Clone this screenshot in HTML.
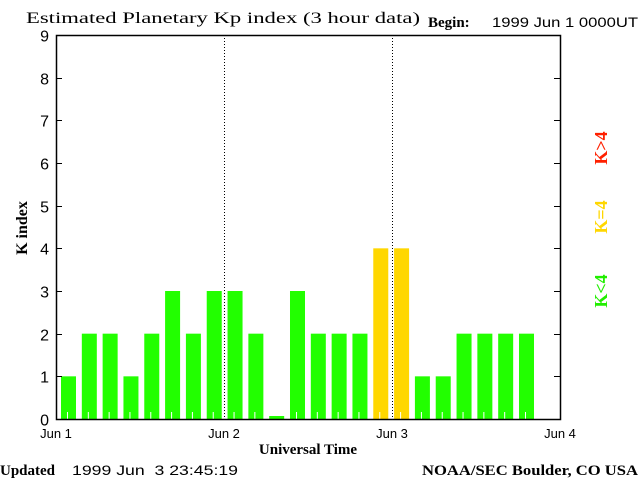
<!DOCTYPE html>
<html><head><meta charset="utf-8"><style>body{margin:0;background:#fff}svg{display:block}</style></head>
<body>
<svg id="chart" width="640" height="480" xmlns="http://www.w3.org/2000/svg">
<rect width="640" height="480" fill="#fff"/>
<text x="26" y="23" font-family="Liberation Serif, serif" font-size="16" textLength="394" lengthAdjust="spacingAndGlyphs">Estimated Planetary Kp index (3 hour data)</text>
<text x="428" y="27" font-family="Liberation Serif, serif" font-weight="bold" font-size="15">Begin:</text>
<text x="492" y="27" font-family="Liberation Sans, sans-serif" font-size="14" textLength="146" lengthAdjust="spacingAndGlyphs">1999 Jun 1 0000UT</text>
<g id="bars"></g>
<g id="grid"></g>
<rect x="56.5" y="35.5" width="504" height="384" fill="none" stroke="#000" stroke-width="1.5"/>
<g id="axes"></g>
<text transform="translate(27,228) rotate(-90)" text-anchor="middle" font-family="Liberation Serif, serif" font-weight="bold" font-size="16">K index</text>
<text x="308" y="454" text-anchor="middle" font-family="Liberation Serif, serif" font-weight="bold" font-size="15">Universal Time</text>
<text transform="translate(607,148) rotate(-90)" text-anchor="middle" font-family="Liberation Serif, serif" font-weight="bold" font-size="18" fill="#ff2000">K&gt;4</text>
<text transform="translate(607,217) rotate(-90)" text-anchor="middle" font-family="Liberation Serif, serif" font-weight="bold" font-size="18" fill="#ffd700">K=4</text>
<text transform="translate(607,291) rotate(-90)" text-anchor="middle" font-family="Liberation Serif, serif" font-weight="bold" font-size="18" fill="#22ee00">K&lt;4</text>
<text x="0" y="475" font-family="Liberation Serif, serif" font-weight="bold" font-size="15">Updated</text>
<text x="72" y="475" font-family="Liberation Sans, sans-serif" font-size="14" textLength="166" lengthAdjust="spacingAndGlyphs" xml:space="preserve">1999 Jun  3 23:45:19</text>
<text x="422" y="475" font-family="Liberation Serif, serif" font-weight="bold" font-size="15" textLength="216" lengthAdjust="spacingAndGlyphs">NOAA/SEC Boulder, CO USA</text>
</svg>
<script>
const kpValues = [1,2,2,1,2,3,2,3, 3,2,0,3,2,2,2,4, 4,1,1,2,2,2,2];
const yTicks = [0,1,2,3,4,5,6,7,8,9];
const dayLabels = ["Jun 1","Jun 2","Jun 3","Jun 4"];
const NS='http://www.w3.org/2000/svg';
const L=56,R=560,T=35,B=419;
const y=v=>B-(v/9)*(B-T);
const xDay=d=>L+d*(R-L)/3;
const xBar=i=>68.5+i*20.818;
function mk(tag,attrs,parent){const e=document.createElementNS(NS,tag);for(const k in attrs)e.setAttribute(k,attrs[k]);parent.appendChild(e);return e;}
const bars=document.getElementById('bars'),grid=document.getElementById('grid'),axes=document.getElementById('axes');
kpValues.forEach((v,i)=>{
  const col=v<4?'#22ff00':(v==4?'#ffd700':'#ff2000');
  const top=Math.min(y(v),B-3);
  const r=mk('rect',{x:xBar(i)-7.5,y:top,width:15,height:B-top,fill:col},bars);
  
  
  if(v>0){const t=mk('line',{x1:xBar(i)-1,x2:xBar(i)-1,y1:B-7,y2:B,stroke:'#fff','stroke-width':1},bars);
  
  }
});
[1,2].forEach(d=>{
  const l=mk('line',{x1:xDay(d)+0.5,x2:xDay(d)+0.5,y1:T,y2:B,stroke:'#000','stroke-width':1,'stroke-dasharray':'1,2'},grid);
  
  
});
yTicks.forEach(v=>{
  const yy=Math.round(y(v))+0.5;
  const a=mk('line',{x1:L,x2:L+6,y1:yy,y2:yy,stroke:'#000'},axes);
  
  
  const b=mk('line',{x1:R-6,x2:R,y1:yy,y2:yy,stroke:'#000'},axes);
  
  
  const t=mk('text',{x:49,y:yy+6,'text-anchor':'end','font-family':'Liberation Sans, sans-serif','font-size':16},axes);
  t.textContent=v;
  
  
});
dayLabels.forEach((s,d)=>{
  const t=mk('text',{x:xDay(d),y:438,'text-anchor':'middle','font-family':'Liberation Sans, sans-serif','font-size':13},axes);
  t.textContent=s;
  
  
});
</script>
</body></html>
